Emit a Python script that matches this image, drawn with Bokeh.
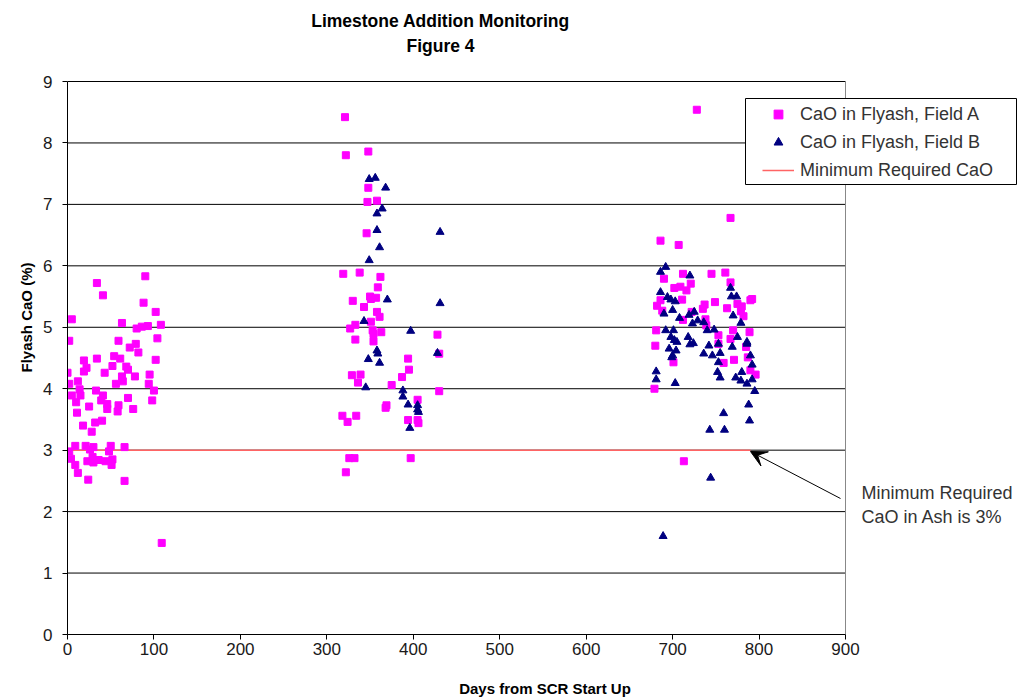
from bokeh.plotting import figure
from bokeh.models import (ColumnDataSource, Legend, LegendItem, Label, Arrow,
                          VeeHead, Range1d, FixedTicker, BoxAnnotation)
from bokeh.embed import file_html
from bokeh.resources import INLINE

# ---------------- data ----------------
a_days = [
    # first period
    90, 34, 41, 88, 102, 5, 63, 108, 80, 86, 93, 2, 59, 104, 79, 72, 82, 19, 34, 54,
    61, 102, 22, 19, 52, 68, 70, 0, 43, 63, 78, 95, 12, 2, 56, 64, 94, 14, 33, 100,
    5, 15, 41, 10, 39, 46, 70, 98, 25, 46, 59, 58, 76, 11, 32, 40, 18, 28, 9, 21,
    30, 50, 66, 2, 26, 48, 4, 29, 36, 44, 52, 23, 30, 9, 51, 12, 24, 66, 109,
    # second period
    321, 322, 348, 348, 347, 358, 346, 319, 338, 362, 359, 350, 357, 351, 330, 343,
    358, 361, 351, 333, 327, 353, 354, 363, 333, 354, 428, 430, 394, 395, 387, 329,
    339, 336, 375, 430, 405, 369, 368, 318, 334, 324, 394, 405, 406, 326, 332, 397, 322,
    # third period
    728, 767, 686, 707, 712, 745, 761, 767, 690, 702, 709, 716, 721, 711, 686, 688,
    792, 790, 749, 737, 735, 763, 775, 780, 779, 782, 738, 739, 722, 712, 770, 789,
    753, 753, 767, 771, 759, 790, 796, 701, 713, 679, 680, 682, 681, 785, 787,
]
a_cao = [
    5.83, 5.72, 5.52, 5.40, 5.25, 5.13, 5.07, 5.04, 4.98, 5.01, 5.02, 4.78, 4.78, 4.82, 4.73, 4.67, 4.59, 4.46, 4.49, 4.53,
    4.49, 4.47, 4.34, 4.28, 4.37, 4.36, 4.31, 4.26, 4.26, 4.20, 4.20, 4.23, 4.12, 4.08, 4.08, 4.12, 4.08, 3.99, 3.97, 3.97,
    3.89, 3.89, 3.89, 3.78, 3.81, 3.75, 3.85, 3.81, 3.71, 3.67, 3.73, 3.63, 3.67, 3.61, 3.45, 3.48, 3.40, 3.30, 3.07, 3.07,
    3.05, 3.07, 3.05, 2.98, 3.01, 2.98, 2.86, 2.89, 2.84, 2.82, 2.85, 2.82, 2.80, 2.76, 2.76, 2.63, 2.52, 2.50, 1.49,
    8.42, 7.80, 7.86, 7.27, 7.04, 7.06, 6.53, 5.87, 5.89, 5.82, 5.65, 5.50, 5.48, 5.46, 5.43, 5.33,
    5.25, 5.17, 5.09, 5.04, 4.98, 4.95, 4.89, 4.92, 4.80, 4.77, 4.88, 4.57, 4.49, 4.31, 4.19, 4.22,
    4.23, 4.10, 4.06, 3.96, 3.82, 3.73, 3.69, 3.56, 3.56, 3.46, 3.49, 3.49, 3.44, 2.87, 2.87, 2.87, 2.64,
    8.54, 6.78, 6.41, 6.34, 5.87, 5.87, 5.89, 5.73, 5.79, 5.64, 5.66, 5.60, 5.71, 5.45, 5.44, 5.27,
    5.46, 5.44, 5.41, 5.37, 5.30, 5.31, 5.38, 5.34, 5.26, 5.18, 5.13, 5.03, 5.25, 5.12, 4.95, 4.92,
    4.87, 4.73, 4.81, 4.47, 4.42, 4.30, 4.23, 4.43, 2.82, 4.00, 4.70, 5.35, 4.95, 4.68, 4.51,
]

b_days = [
    # second period
    349, 356, 368, 364, 358, 358, 431, 361, 349, 370, 431, 343, 397, 358, 359, 428,
    348, 361, 345, 388, 388, 394, 405, 405, 406, 396,
    # third period
    692, 686, 720, 767, 768, 774, 686, 694, 703, 698, 700, 690, 770, 779, 708, 719,
    725, 729, 723, 736, 740, 748, 701, 692, 718, 698, 724, 702, 775, 786, 705, 720,
    742, 753, 769, 786, 696, 704, 700, 699, 736, 746, 755, 790, 792, 780, 753, 752,
    755, 773, 779, 786, 792, 703, 795, 788, 759, 789, 743, 760, 744, 689, 681, 681,
]
b_cao = [
    7.41, 7.43, 7.27, 6.93, 6.85, 6.58, 6.55, 6.30, 6.09, 5.45, 5.39, 5.10, 4.94, 4.62, 4.57, 4.58,
    4.48, 4.42, 4.02, 3.97, 3.87, 3.74, 3.73, 3.66, 3.62, 3.36,
    5.98, 5.90, 5.84, 5.64, 5.50, 5.50, 5.57, 5.49, 5.42, 5.45, 5.28, 5.22, 5.19, 5.07, 5.15, 5.20,
    5.25, 5.11, 5.06, 5.08, 4.95, 4.96, 4.95, 4.95, 4.84, 4.84, 4.74, 4.79, 4.84, 4.76, 4.76, 4.72,
    4.70, 4.73, 4.68, 4.73, 4.65, 4.62, 4.54, 4.51, 4.57, 4.54, 4.58, 4.54, 4.39, 4.27, 4.43, 4.27,
    4.18, 4.18, 4.13, 4.08, 4.15, 4.09, 3.96, 3.74, 3.60, 3.48, 3.33, 3.33, 2.55, 1.60, 4.15, 4.28,
]

min_days = [0, 790]
min_cao = [3.0, 3.0]

x_ticks = [0, 100, 200, 300, 400, 500, 600, 700, 800, 900]
y_ticks = [0, 1, 2, 3, 4, 5, 6, 7, 8, 9]

FONT = "Liberation Sans"

# ---------------- layout geometry (pixels) ----------------
W, H = 1022, 700
LEFT, TOP_9, BOTTOM = 67, 81, 634          # frame left, y=9 line, frame bottom
RIGHT_900 = 845                              # x=900 position
px_per_day = (RIGHT_900 - LEFT) / x_ticks[-1]
px_per_unit = (BOTTOM - TOP_9) / y_ticks[-1]
x_end = (W - LEFT) / px_per_day
y_end = BOTTOM / px_per_unit


def dx(px):  # page x pixel -> data x
    return (px - LEFT) / px_per_day


def dy(py):  # page y pixel -> data y
    return (BOTTOM - py) / px_per_unit


p = figure(width=W, height=H, output_backend="svg", toolbar_location=None,
           x_range=Range1d(0, x_end), y_range=Range1d(0, y_end),
           min_border_left=LEFT, min_border_right=0, min_border_top=0,
           min_border_bottom=H - BOTTOM)
p.title = None
p.background_fill_color = "white"
p.border_fill_color = "white"
p.outline_line_color = None
p.xgrid.visible = False
p.ygrid.visible = False

for ax in (p.xaxis[0], p.yaxis[0]):
    ax.axis_line_color = "black"
    ax.axis_line_width = 1
    ax.major_tick_line_color = "black"
    ax.major_tick_out = 5
    ax.major_tick_in = 0
    ax.minor_tick_line_color = None
    ax.major_label_text_font = FONT
    ax.major_label_text_font_size = "17px"
    ax.major_label_text_color = "#1a1a1a"
    ax.axis_label_text_font = FONT
    ax.axis_label_text_font_style = "bold"
    ax.axis_label_text_font_size = "15px"
    ax.axis_label_text_color = "black"

p.xaxis.ticker = FixedTicker(ticks=x_ticks)
p.yaxis.ticker = FixedTicker(ticks=y_ticks)
p.xaxis.bounds = (x_ticks[0], x_ticks[-1])
p.yaxis.bounds = (y_ticks[0], y_ticks[-1])
p.xaxis.axis_label = "Days from SCR Start Up"
p.yaxis.axis_label = "Flyash CaO (%)"
p.xaxis.major_label_standoff = 3
p.xaxis.axis_label_standoff = 22
p.yaxis.major_label_standoff = 10
p.yaxis.axis_label_standoff = 5

# horizontal gridlines (0..900 only) and right border of the plot area
gl = y_ticks[1:]
p.segment(x0=[x_ticks[0]] * len(gl), y0=gl, x1=[x_ticks[-1]] * len(gl), y1=gl,
          line_color="black", line_width=1)
p.segment(x0=[x_ticks[-1]], y0=[y_ticks[0]], x1=[x_ticks[-1]], y1=[y_ticks[-1]],
          line_color="#888888", line_width=1)

src_a = ColumnDataSource(dict(x=a_days, y=a_cao))
src_b = ColumnDataSource(dict(x=b_days, y=b_cao))
src_m = ColumnDataSource(dict(x=min_days, y=min_cao))

r_line = p.line("x", "y", source=src_m, line_color="#FF6464", line_width=1.5)
r_a = p.scatter("x", "y", source=src_a, marker="square", size=7,
                fill_color="#FF00FF", line_color="#FF00FF")
r_b = p.scatter("x", "y", source=src_b, marker="triangle", size=8,
                fill_color="#000080", line_color="#000080")

# legend box
p.add_layout(BoxAnnotation(left=dx(745), right=dx(1016), top=dy(98), bottom=dy(184),
                           fill_color="white", fill_alpha=1.0,
                           line_color="black", line_width=1, line_alpha=1.0))

legend = Legend(items=[
    LegendItem(label="CaO in Flyash, Field A", renderers=[r_a]),
    LegendItem(label="CaO in Flyash, Field B", renderers=[r_b]),
    LegendItem(label="Minimum Required CaO", renderers=[r_line]),
], location=(762 - LEFT, BOTTOM - 181))
legend.label_text_font = FONT
legend.label_text_font_size = "18px"
legend.label_text_color = "#333333"
legend.border_line_color = None
legend.background_fill_alpha = 0.0
legend.glyph_width = 32
legend.glyph_height = 22
legend.label_height = 22
legend.label_standoff = 6
legend.padding = 0
legend.spacing = 6
legend.margin = 0
p.add_layout(legend, "center")

# title
p.add_layout(Label(x=dx(440), y=dy(20), text="Limestone Addition Monitoring",
                   text_font=FONT, text_font_style="bold",
                   text_font_size="17.5px", text_align="center",
                   text_baseline="middle", text_color="black"))
p.add_layout(Label(x=dx(440), y=dy(45), text="Figure 4",
                   text_font=FONT, text_font_style="bold",
                   text_font_size="17.5px", text_align="center",
                   text_baseline="middle", text_color="black"))

# annotation
p.add_layout(Arrow(end=VeeHead(size=16, fill_color="black", line_color="black"),
                   x_start=dx(840), y_start=dy(498), x_end=dx(750), y_end=dy(451),
                   line_color="black", line_width=1))
p.add_layout(Label(x=dx(861), y=dy(492), text="Minimum Required",
                   text_font=FONT, text_font_size="18px",
                   text_baseline="middle", text_color="#333333"))
p.add_layout(Label(x=dx(861), y=dy(516), text="CaO in Ash is 3%",
                   text_font=FONT, text_font_size="18px",
                   text_baseline="middle", text_color="#333333"))

open("out.html", "w").write(file_html(p, INLINE))
